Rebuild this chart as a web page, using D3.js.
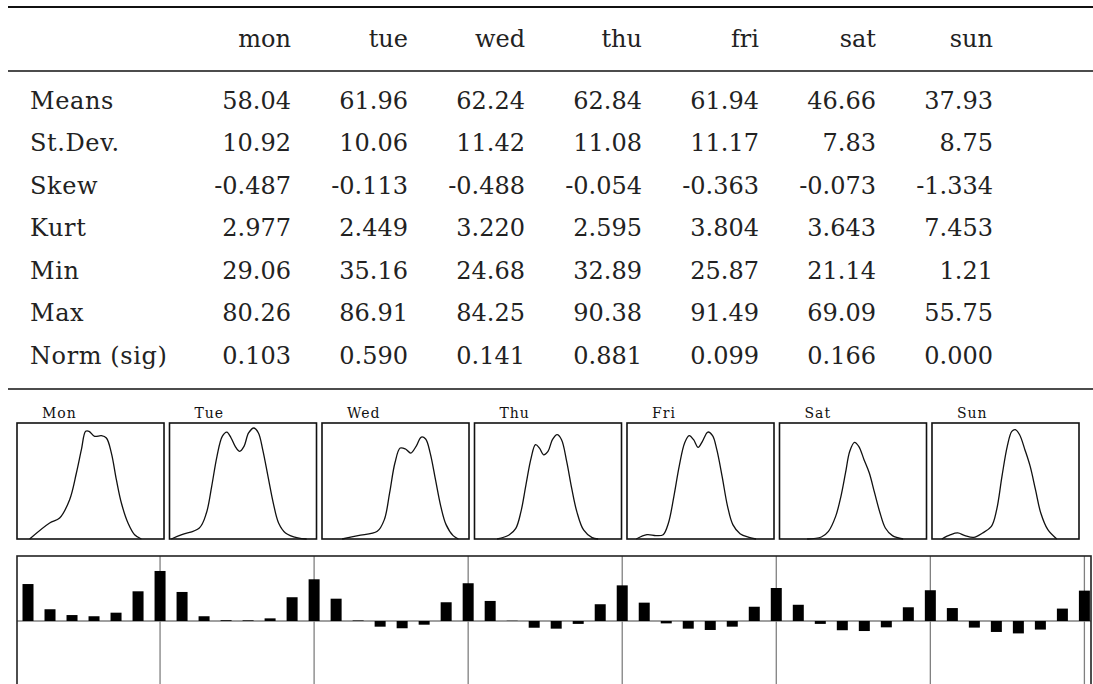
<!DOCTYPE html>
<html>
<head>
<meta charset="utf-8">
<script src="https://cdn.jsdelivr.net/npm/d3@7/dist/d3.min.js"></script>
<style>
  body { margin: 0; background: #fff; }
</style>
</head>
<body>
<svg></svg>
<script>
// table
const days = ["mon", "tue", "wed", "thu", "fri", "sat", "sun"];
const rowLabels = ["Means", "St.Dev.", "Skew", "Kurt", "Min", "Max", "Norm (sig)"];
const means  = [58.04, 61.96, 62.24, 62.84, 61.94, 46.66, 37.93];
const stdevs = [10.92, 10.06, 11.42, 11.08, 11.17, 7.83, 8.75];
const skews  = [-0.487, -0.113, -0.488, -0.054, -0.363, -0.073, -1.334];
const kurts  = [2.977, 2.449, 3.220, 2.595, 3.804, 3.643, 7.453];
const mins   = [29.06, 35.16, 24.68, 32.89, 25.87, 21.14, 1.21];
const maxs   = [80.26, 86.91, 84.25, 90.38, 91.49, 69.09, 55.75];
const normSig = [0.103, 0.590, 0.141, 0.881, 0.099, 0.166, 0.000];
const decimals = [2, 2, 3, 3, 2, 2, 3];

// density panels (x and y as fraction of the panel)
const panelLabels = ["Mon", "Tue", "Wed", "Thu", "Fri", "Sat", "Sun"];
const densMon = [[0.086,0],[0.222,0.138],[0.290,0.181],[0.358,0.339],[0.404,0.569],[0.438,0.770],[0.467,0.928],
  [0.490,0.928],[0.528,0.885],[0.574,0.891],[0.608,0.871],[0.642,0.741],[0.676,0.511],[0.710,0.310],[0.755,0.138],[0.800,0.037],[0.846,0]];
const densTue = [[0.012,0],[0.084,0.037],[0.203,0.095],[0.251,0.224],[0.287,0.454],[0.323,0.713],[0.359,0.885],[0.390,0.922],
  [0.419,0.871],[0.447,0.799],[0.478,0.756],[0.507,0.799],[0.538,0.914],[0.574,0.957],[0.605,0.914],[0.634,0.770],
  [0.670,0.540],[0.706,0.310],[0.742,0.138],[0.789,0.052],[0.873,0.009],[0.933,0]];
const densWed = [[0.137,0],[0.245,0.029],[0.376,0.066],[0.424,0.167],[0.460,0.397],[0.496,0.655],[0.532,0.784],[0.568,0.776],
  [0.604,0.741],[0.640,0.799],[0.676,0.879],[0.705,0.862],[0.736,0.741],[0.772,0.511],[0.808,0.282],[0.844,0.124],[0.892,0.029],[0.928,0]];
const densThu = [[0.154,0],[0.235,0.035],[0.281,0.092],[0.316,0.236],[0.350,0.467],[0.385,0.697],[0.415,0.813],[0.442,0.784],
  [0.470,0.726],[0.500,0.755],[0.530,0.856],[0.562,0.899],[0.592,0.856],[0.627,0.669],[0.661,0.438],[0.696,0.236],
  [0.742,0.078],[0.800,0.012],[0.841,0]];
const densFri = [[0.063,0],[0.136,0.037],[0.197,0.029],[0.246,0.037],[0.282,0.138],[0.319,0.368],[0.355,0.626],[0.392,0.828],
  [0.423,0.891],[0.453,0.856],[0.484,0.790],[0.513,0.842],[0.550,0.922],[0.582,0.891],[0.611,0.770],[0.647,0.540],
  [0.684,0.282],[0.720,0.124],[0.769,0.046],[0.830,0.014],[0.878,0]];
const densSat = [[0.188,0],[0.285,0.017],[0.333,0.066],[0.382,0.195],[0.418,0.368],[0.449,0.569],[0.478,0.756],[0.510,0.833],
  [0.539,0.799],[0.575,0.684],[0.611,0.569],[0.647,0.397],[0.684,0.224],[0.720,0.095],[0.768,0.029],[0.841,0]];
const densSun = [[0.067,0],[0.127,0.037],[0.175,0.052],[0.224,0.029],[0.284,0.014],[0.344,0.052],[0.404,0.109],[0.440,0.253],
  [0.476,0.540],[0.512,0.799],[0.543,0.928],[0.567,0.943],[0.596,0.899],[0.632,0.770],[0.668,0.626],[0.704,0.425],
  [0.740,0.224],[0.788,0.080],[0.849,0]];
const densities = [densMon, densTue, densWed, densThu, densFri, densSat, densSun];

// autocorrelation, lags 1..49
const acf = [0.280, 0.089, 0.045, 0.036, 0.063, 0.225, 0.379,
  0.220, 0.036, 0.006, 0.005, 0.020, 0.180, 0.316,
  0.169, 0.004, -0.043, -0.055, -0.028, 0.142, 0.286,
  0.152, 0.002, -0.051, -0.058, -0.022, 0.127, 0.270,
  0.139, -0.018, -0.058, -0.068, -0.043, 0.108, 0.250,
  0.123, -0.022, -0.070, -0.076, -0.048, 0.104, 0.233,
  0.098, -0.050, -0.083, -0.094, -0.065, 0.094, 0.230];

const width = 1093, height = 684;
const serif = "'DejaVu Serif', serif";
const svg = d3.select("svg").attr("width", width).attr("height", height);

// ---- table ----
const rows = [means, stdevs, skews, kurts, mins, maxs, normSig];
const colX = d3.scalePoint().domain(days).range([291, 993]);
const rowY = d3.scalePoint().domain(rowLabels).range([108.5, 363.5]);

[[7, 2], [71, 1.6], [389, 1.6]].forEach(([y, w]) => {
  svg.append("line")
    .attr("x1", 8).attr("x2", width)
    .attr("y1", y).attr("y2", y)
    .attr("stroke", "#111").attr("stroke-width", w);
});

svg.append("g").selectAll("text")
  .data(days)
  .join("text")
    .attr("x", d => colX(d))
    .attr("y", 47)
    .attr("text-anchor", "end")
    .attr("font-family", serif)
    .attr("font-size", 24)
    .attr("fill", "#222")
    .text(d => d);

const rowG = svg.append("g").selectAll("g")
  .data(rowLabels)
  .join("g")
    .attr("transform", d => `translate(0, ${rowY(d)})`);

rowG.append("text")
  .attr("x", 30)
  .attr("font-family", serif)
  .attr("font-size", 24)
  .attr("letter-spacing", 0.6)
  .attr("fill", "#222")
  .text(d => d);

rowG.selectAll("text.val")
  .data((d, i) => rows[i].map((v, j) => ({ v, day: days[j], dec: decimals[i] })))
  .join("text")
    .attr("class", "val")
    .attr("x", d => colX(d.day))
    .attr("text-anchor", "end")
    .attr("font-family", serif)
    .attr("font-size", 24)
    .attr("fill", "#222")
    .text(d => d.v.toFixed(d.dec));

// ---- density panels ----
const panelX = d3.scaleBand().domain(panelLabels).range([17, 1079]).paddingInner(0.036);
const panelTop = 423, panelBottom = 539;

const panel = svg.append("g").selectAll("g")
  .data(panelLabels)
  .join("g");

panel.append("rect")
  .attr("x", d => panelX(d))
  .attr("y", panelTop)
  .attr("width", panelX.bandwidth())
  .attr("height", panelBottom - panelTop)
  .attr("fill", "none")
  .attr("stroke", "#111")
  .attr("stroke-width", 1.6);

panel.append("text")
  .attr("x", d => panelX(d) + 25)
  .attr("y", 418)
  .attr("font-family", serif)
  .attr("font-size", 14)
  .attr("letter-spacing", 1)
  .attr("fill", "#111")
  .text(d => d);

const py = d3.scaleLinear().domain([0, 1]).range([panelBottom, panelTop]);
panel.append("path")
  .attr("fill", "none")
  .attr("stroke", "#111")
  .attr("stroke-width", 1.3)
  .attr("d", (d, i) => {
    const px = d3.scaleLinear().domain([0, 1]).range([panelX(d), panelX(d) + panelX.bandwidth()]);
    return d3.line()
      .x(p => px(p[0]))
      .y(p => py(p[1]))
      .curve(d3.curveCatmullRom.alpha(0.5))(densities[i]);
  });

// ---- autocorrelation bars ----
const lags = acf.map((v, i) => i + 1);
const ax = d3.scaleLinear().domain([0.5, 49.3]).range([17, 1091]);
const ay = d3.scaleLinear().domain([-0.5, 0.5]).range([687, 555]);
const acfTop = 556;

svg.append("g").selectAll("line")
  .data(lags.filter(l => l % 7 === 0))
  .join("line")
    .attr("x1", d => ax(d)).attr("x2", d => ax(d))
    .attr("y1", acfTop).attr("y2", height + 10)
    .attr("stroke", "#808080")
    .attr("stroke-width", 1.3);

svg.append("line")
  .attr("x1", ax(0.5)).attr("x2", ax(49.3))
  .attr("y1", ay(0)).attr("y2", ay(0))
  .attr("stroke", "#808080")
  .attr("stroke-width", 1.3);

svg.append("g").selectAll("rect")
  .data(lags)
  .join("rect")
    .attr("x", d => ax(d) - 5.5)
    .attr("width", 11)
    .attr("y", d => ay(Math.max(0, acf[d - 1])))
    .attr("height", d => Math.abs(ay(acf[d - 1]) - ay(0)))
    .attr("fill", "#000");

svg.append("rect")
  .attr("x", ax(0.5))
  .attr("y", acfTop)
  .attr("width", ax(49.3) - ax(0.5))
  .attr("height", 200)
  .attr("fill", "none")
  .attr("stroke", "#222")
  .attr("stroke-width", 1.6);
</script>
</body>
</html>
